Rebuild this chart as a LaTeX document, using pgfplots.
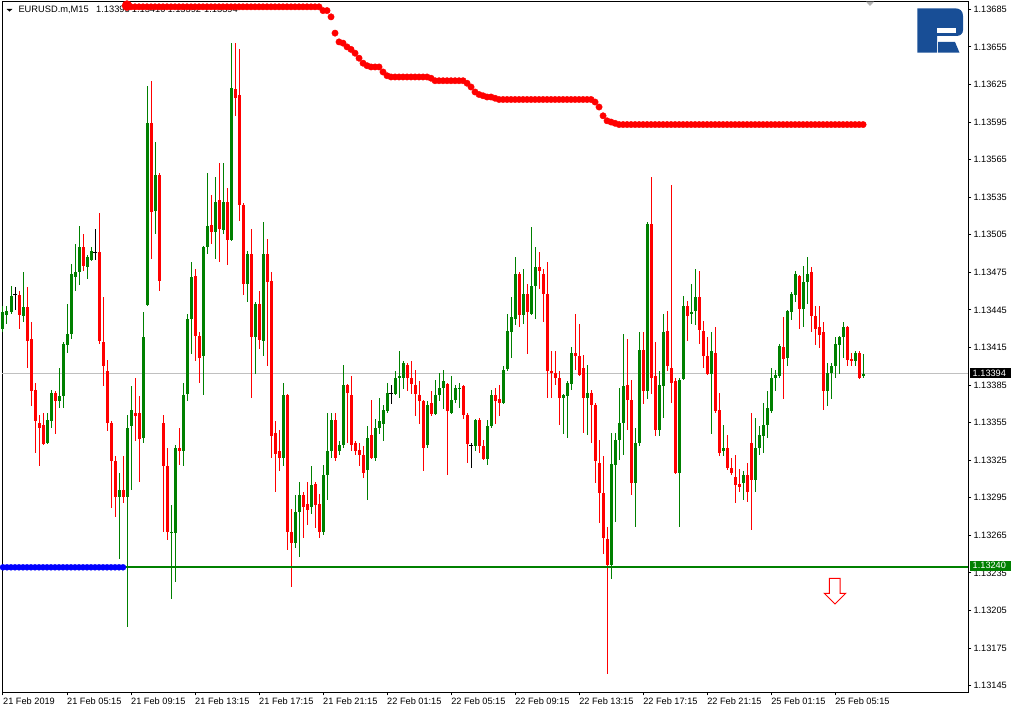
\documentclass[border=0pt]{standalone}
\usepackage{pgfplots}
\pgfplotsset{compat=1.18}
\usepackage{pgfplotstable}
\usepackage{fontspec}
\setmainfont{Liberation Sans}

\definecolor{bull}{RGB}{0,128,0}
\definecolor{bear}{RGB}{255,0,0}
\definecolor{lvl}{RGB}{192,192,192}
\definecolor{logoblue}{RGB}{24,78,150}

% EURUSD M15 candles, prices in points above 1.13000 (394 = 1.13394)
% i = bar number from 21 Feb 01:15
\pgfplotstableread{
i o h l c
0 430 448 427 443
1 441 448 434 444
2 443 464 442 456
5 440 475 435 447
11 339 363 338 357
12 356 381 351 379
14 372 399 367 376
15 376 419 367 418
16 417 450 411 426
17 426 482 422 474
18 471 498 460 475
19 475 512 465 495
21 479 489 470 487
22 485 495 484 492
29 296 315 246 301
31 296 361 192 351
32 352 384 301 365
35 343 443 339 423
36 449 624 448 594
38 524 579 506 553
42 267 289 214 268
43 267 337 228 335
45 332 387 320 377
46 378 442 372 438
47 438 483 410 471
50 408 496 377 495
51 495 554 490 512
53 507 551 486 531
55 509 562 506 531
57 501 658 500 622
61 466 492 451 490
63 423 451 394 450
65 420 515 408 490
70 327 387 320 377
73 259 297 255 284
74 284 308 248 297
77 288 320 282 305
80 268 321 265 313
81 313 363 293 332
82 332 363 327 357
84 332 340 329 337
85 337 401 335 385
91 317 352 293 343
93 327 358 324 351
94 351 375 346 356
95 354 369 340 365
96 364 387 363 379
98 378 396 377 391
99 391 412 375 392
100 391 404 382 403
106 337 372 335 369
108 362 389 361 377
109 377 395 372 383
110 383 397 366 388
112 363 392 362 373
113 373 385 371 383
114 382 387 367 383
118 336 358 332 357
121 326 357 321 352
122 352 381 351 377
125 371 400 370 397
126 398 442 396 428
127 427 455 407 439
128 438 487 433 474
130 441 478 434 458
132 442 511 441 464
133 464 495 438 479
140 375 378 346 377
141 376 388 343 387
142 386 415 381 411
146 375 401 345 379
152 241 347 230 322
153 321 347 276 341
154 341 383 325 355
155 355 426 329 384
158 307 351 272 339
159 339 427 336 413
161 380 515 374 514
164 349 396 344 385
165 384 442 359 427
169 315 391 272 389
170 390 456 389 448
172 442 466 434 443
173 444 478 433 455
177 394 427 346 412
180 332 353 328 335
185 307 316 293 313
188 309 359 300 335
189 335 352 329 345
190 344 371 331 353
191 353 380 343 367
192 364 399 363 391
193 391 397 380 393
194 392 418 391 416
196 407 445 400 444
197 443 459 437 458
198 457 476 451 474
200 446 480 431 467
201 467 487 450 474
206 380 403 368 395
207 395 403 374 400
208 400 423 391 418
209 417 424 394 423
210 423 435 407 431
213 404 412 400 411
215 392 410 391 394
}\bullc

\pgfplotstableread{
i o h l c
4 457 460 430 441
6 447 463 399 420
7 422 435 368 380
8 381 387 331 356
9 355 361 320 351
10 353 363 337 338
13 379 380 346 372
20 495 506 476 480
24 491 522 418 420
25 419 455 384 400
26 396 405 348 355
27 355 356 287 324
28 324 328 280 296
30 301 328 291 296
33 363 391 340 360
34 363 376 308 342
37 594 628 486 523
39 553 554 460 468
40 355 361 268 320
41 320 335 261 268
44 335 351 321 332
48 472 478 404 424
49 424 427 387 407
52 513 537 498 507
54 533 562 483 510
56 531 542 481 501
58 621 658 600 614
59 617 653 516 529
60 529 530 457 466
62 490 510 375 423
64 450 460 414 421
66 490 502 400 467
67 468 475 327 344
68 347 356 300 330
69 332 349 316 327
71 377 378 253 268
72 268 286 224 259
75 297 300 263 288
76 290 308 273 285
78 306 308 271 289
79 290 298 263 268
83 357 363 324 327
86 385 386 339 379
87 377 392 332 337
88 339 340 329 332
89 333 339 320 329
90 329 336 311 315
92 345 373 326 327
101 401 403 380 391
102 391 404 378 386
103 385 397 360 378
104 377 388 354 372
105 372 373 316 335
107 371 380 360 362
111 386 387 313 364
115 384 385 358 361
116 361 363 323 338
119 357 359 331 336
120 336 341 325 326
123 377 383 354 372
124 374 385 360 371
129 474 475 431 441
131 458 466 410 443
134 479 491 462 476
135 474 478 435 458
136 458 483 375 396
137 396 412 375 395
138 395 412 385 391
139 391 396 353 375
143 411 442 397 408
144 408 434 392 393
145 399 409 347 375
147 379 381 339 369
148 369 371 307 324
149 323 341 275 299
150 299 328 250 263
151 262 272 154 241
156 385 422 349 373
157 373 389 297 307
160 413 427 370 380
162 514 551 378 391
163 392 419 344 349
166 428 444 396 400
167 399 545 371 387
168 388 391 314 315
171 448 452 420 440
174 455 476 418 429
175 428 436 399 408
176 408 423 393 394
178 411 431 363 364
179 365 379 328 331
181 335 345 317 319
182 319 327 313 315
183 312 329 291 305
184 306 318 300 304
186 313 323 292 300
187 339 363 269 309
195 415 439 374 406
199 472 473 430 446
202 475 479 427 440
203 440 448 417 430
204 431 448 415 425
205 427 435 365 380
211 431 432 400 405
212 406 411 400 404
214 411 412 390 391
}\bearc

\pgfplotstableread{
i o h l c
3 457 463 445 457
23 491 510 485 491
97 378 385 370 378
117 337 339 319 337
}\dojic

\begin{document}
\begin{tikzpicture}
\useasboundingbox (0pt,0pt) rectangle (1014pt,712pt);

% chart header
\fill (6.7pt,703pt) -- (12.3pt,703pt) -- (9.5pt,700.3pt) -- cycle;
\begin{scope}[every node/.style={anchor=base west, inner sep=0pt, font=\fontsize{9.3}{11}\selectfont}]
  \node at (18.3pt,699.3pt) {EURUSD.m,M15};
  \node at (96pt,699.3pt) {1.13393};
  \node at (131.7pt,699.3pt) {1.13410};
  \node at (167.3pt,699.3pt) {1.13392};
  \node at (204pt,699.3pt) {1.13394};
\end{scope}

\begin{axis}[
    scale only axis,
    width=965.8pt, height=690.6pt,
    at={(2.5pt,19.7pt)}, anchor=south west,
    xmin=-0.125, xmax=241.3,
    ymin=139.7, ymax=691.1,
    clip=false,
    axis line style={line width=1pt},
    tick align=outside,
    major tick length=3pt,
    tick style={black, line width=1pt},
    xtick pos=bottom, ytick pos=right,
    yticklabel pos=right,
    xtick={0,16,32,48,64,80,96,112,128,144,160,176,192,208},
    xticklabels={21 Feb 2019, 21 Feb 05:15, 21 Feb 09:15, 21 Feb 13:15,
      21 Feb 17:15, 21 Feb 21:15, 22 Feb 01:15, 22 Feb 05:15, 22 Feb 09:15,
      22 Feb 13:15, 22 Feb 17:15, 22 Feb 21:15, 25 Feb 01:15, 25 Feb 05:15},
    ytick={145,175,205,235,265,295,325,355,385,415,445,475,505,535,565,595,625,655,685},
    yticklabels={1.13145,1.13175,1.13205,1.13235,1.13265,1.13295,1.13325,
      1.13355,1.13385,1.13415,1.13445,1.13475,1.13505,1.13535,1.13565,
      1.13595,1.13625,1.13655,1.13685},
    ticklabel style={font=\fontsize{9.2}{11}\selectfont},
    xticklabel style={anchor=north west, inner sep=0pt, yshift=-2.2pt},
    yticklabel style={anchor=west, inner sep=0pt, xshift=2pt},
  ]

  % current price level
  \addplot[lvl, line width=1pt] coordinates {(-0.125,394) (241.3,394)};

  % wicks
  \addplot[draw=none, error bars/.cd, y dir=both, y explicit, error mark=none,
    error bar style={draw=bull, line width=1pt}]
    table[x=i, y expr={(\thisrow{h}+\thisrow{l})/2}, y error expr={(\thisrow{h}-\thisrow{l})/2}] {\bullc};
  \addplot[draw=none, error bars/.cd, y dir=both, y explicit, error mark=none,
    error bar style={draw=bear, line width=1pt}]
    table[x=i, y expr={(\thisrow{h}+\thisrow{l})/2}, y error expr={(\thisrow{h}-\thisrow{l})/2}] {\bearc};
  \addplot[draw=none, error bars/.cd, y dir=both, y explicit, error mark=none,
    error bar style={draw=black, line width=1pt}]
    table[x=i, y expr={(\thisrow{h}+\thisrow{l})/2}, y error expr={(\thisrow{h}-\thisrow{l})/2}] {\dojic};

  % bodies
  \addplot[draw=none, error bars/.cd, y dir=both, y explicit, error mark=none,
    error bar style={draw=bull, line width=3pt}]
    table[x=i, y expr={(\thisrow{o}+\thisrow{c})/2}, y error expr={abs(\thisrow{c}-\thisrow{o})/2}] {\bullc};
  \addplot[draw=none, error bars/.cd, y dir=both, y explicit, error mark=none,
    error bar style={draw=bear, line width=3pt}]
    table[x=i, y expr={(\thisrow{o}+\thisrow{c})/2}, y error expr={abs(\thisrow{c}-\thisrow{o})/2}] {\bearc};
  \addplot[black, only marks, mark=-, mark size=2pt, mark options={line width=1pt}]
    table[x=i, y=o] {\dojic};

  % support level
  \addplot[bull, line width=2pt] coordinates {(-0.125,240) (241.3,240)};

  % blue indicator dots
  \addplot[only marks, mark=*, mark size=3pt, color=blue] coordinates {
    (0,239.5) (1,239.5) (2,239.5) (3,239.5) (4,239.5) (5,239.5) (6,239.5) (7,239.5)
    (8,239.5) (9,239.5) (10,239.5) (11,239.5) (12,239.5) (13,239.5) (14,239.5)
    (15,239.5) (16,239.5) (17,239.5) (18,239.5) (19,239.5) (20,239.5) (21,239.5)
    (22,239.5) (23,239.5) (24,239.5) (25,239.5) (26,239.5) (27,239.5) (28,239.5)
    (29,239.5) (30,239.5)};

  % red indicator dots
  \addplot[only marks, mark=*, mark size=3.2pt, color=bear] coordinates {
    (31,687) (32,687) (33,687) (34,687) (35,687) (36,687) (37,687) (38,687) (39,687)
    (40,687) (41,687) (42,687) (43,687) (44,687) (45,687) (46,687) (47,687) (48,687)
    (49,687) (50,687) (51,687) (52,687) (53,687) (54,687) (55,687) (56,687) (57,687)
    (58,687) (59,687) (60,687) (61,687) (62,687) (63,687) (64,687) (65,687) (66,687)
    (67,687) (68,687) (69,687) (70,687) (71,687) (72,687) (73,687) (74,687) (75,687)
    (76,687) (77,687) (78,687) (79,687) (80,684) (81,684) (82,679) (83,666) (84,659)
    (85,658) (86,655) (87,653) (88,650) (89,646) (90,642) (91,640) (92,639) (93,639)
    (94,639) (95,635) (96,632) (97,631) (98,631) (99,631) (100,631) (101,631)
    (102,631) (103,631) (104,631) (105,631) (106,631) (107,630) (108,628) (109,628)
    (110,628) (111,628) (112,628) (113,628) (114,628) (115,628) (116,626) (117,623)
    (118,619) (119,617) (120,616) (121,615) (122,615) (123,614) (124,613) (125,613)
    (126,613) (127,613) (128,613) (129,613) (130,613) (131,613) (132,613) (133,613)
    (134,613) (135,613) (136,613) (137,613) (138,613) (139,613) (140,613) (141,613)
    (142,613) (143,613) (144,613) (145,613) (146,613) (147,613) (148,611) (149,607)
    (150,600) (151,596) (152,595) (153,594) (154,593) (155,593) (156,593) (157,593)
    (158,593) (159,593) (160,593) (161,593) (162,593) (163,593) (164,593) (165,593)
    (166,593) (167,593) (168,593) (169,593) (170,593) (171,593) (172,593) (173,593)
    (174,593) (175,593) (176,593) (177,593) (178,593) (179,593) (180,593) (181,593)
    (182,593) (183,593) (184,593) (185,593) (186,593) (187,593) (188,593) (189,593)
    (190,593) (191,593) (192,593) (193,593) (194,593) (195,593) (196,593) (197,593)
    (198,593) (199,593) (200,593) (201,593) (202,593) (203,593) (204,593) (205,593)
    (206,593) (207,593) (208,593) (209,593) (210,593) (211,593) (212,593) (213,593)
    (214,593) (215,593)};
  \addplot[only marks, mark=*, mark size=5pt, color=bear] coordinates {(31,688)};
\end{axis}

% price labels on the scale
\fill[black] (970pt,334.3pt) rectangle (1010.7pt,343.7pt);
\node[anchor=west, inner sep=0pt, text=white, font=\fontsize{9.2}{11}\selectfont] at (972.5pt,339pt) {1.13394};
\fill[bull] (970pt,141.3pt) rectangle (1011pt,151.3pt);
\node[anchor=west, inner sep=0pt, text=white, font=\fontsize{9.2}{11}\selectfont] at (972.5pt,146.3pt) {1.13240};

% signal arrow
\draw[bear, line width=1pt, line join=miter] (829.3pt,133.7pt) -- (840pt,133.7pt) -- (840pt,118.7pt)
  -- (845.7pt,118.7pt) -- (835pt,108pt) -- (824.3pt,118.7pt) -- (829.3pt,118.7pt) -- cycle;

% shift marker
\fill[lvl!80!gray] (866pt,710.3pt) -- (874pt,710.3pt) -- (870pt,706pt) -- cycle;

% logo
\fill[logoblue] (917.3pt,703.7pt) -- (955pt,703.7pt) .. controls (960pt,703.7pt) and (963pt,701pt) .. (963pt,696pt)
  -- (963pt,682pt) .. controls (963pt,678pt) and (960pt,676pt) .. (956pt,676pt) -- (937pt,676pt)
  -- (937pt,659.3pt) -- (917.3pt,659.3pt) -- cycle;
\fill[white] (937pt,684pt) rectangle (956pt,679pt);
\fill[logoblue] (938pt,670pt) -- (955pt,670pt) -- (959.5pt,659.3pt) -- (938pt,659.3pt) -- cycle;
\end{tikzpicture}
\end{document}
